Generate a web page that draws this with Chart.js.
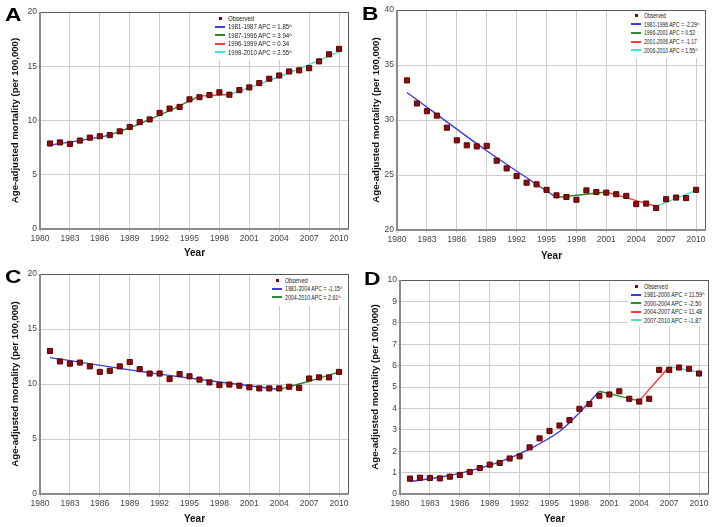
<!DOCTYPE html>
<html>
<head>
<meta charset="utf-8">
<script src="https://cdn.jsdelivr.net/npm/chart.js@4.4.0/dist/chart.umd.min.js"></script>
<style>
  body { margin: 0; background: #fff; width: 714px; height: 527px; position: relative; overflow: hidden; }
  .panel { position: absolute; }
  .letter { position: absolute; font: bold 19px 'Liberation Sans', Arial, sans-serif; line-height: 19px; color: #000; transform: scaleX(1.2); transform-origin: left top; }
  .legend { position: absolute; background: #fff; font-family: 'Liberation Sans', Arial, sans-serif; font-size: 7px; color: #222; box-sizing: border-box; padding-left: 3px; }
  .legend .row { display: flex; align-items: center; white-space: nowrap; }
  .legend .swatch { width: 10px; height: 2px; margin-right: 3px; flex: none; }
  .legend .dot { width: 10px; margin-right: 3px; flex: none; display: flex; justify-content: center; }
  .legend .dot span { width: 3px; height: 3px; background: #7a0808; display: block; }
  .legend .txt { display: inline-block; transform-origin: left center; }
</style>
</head>
<body>

<script>
// Años observados
const years = [1981, 1982, 1983, 1984, 1985, 1986, 1987, 1988, 1989, 1990,
               1991, 1992, 1993, 1994, 1995, 1996, 1997, 1998, 1999, 2000,
               2001, 2002, 2003, 2004, 2005, 2006, 2007, 2008, 2009, 2010];

// Valores observados por panel
const obsA = [7.88, 7.98, 7.84, 8.15, 8.42, 8.55, 8.65, 9.0, 9.4, 9.85,
              10.1, 10.7, 11.1, 11.25, 11.95, 12.15, 12.35, 12.6, 12.38, 12.8,
              13.05, 13.45, 13.85, 14.15, 14.52, 14.62, 14.82, 15.45, 16.1, 16.6];
const obsB = [33.6, 31.5, 30.8, 30.4, 29.3, 28.15, 27.7, 27.6, 27.65, 26.3,
              25.6, 24.9, 24.3, 24.15, 23.65, 23.15, 23.0, 22.75, 23.6, 23.45,
              23.4, 23.25, 23.1, 22.35, 22.4, 22.0, 22.8, 22.95, 22.9, 23.65];
const obsC = [13.0, 12.05, 11.85, 11.95, 11.6, 11.1, 11.2, 11.6, 12.0, 11.35,
              10.95, 10.95, 10.45, 10.9, 10.7, 10.4, 10.15, 9.9, 9.95, 9.85,
              9.7, 9.6, 9.6, 9.6, 9.75, 9.65, 10.5, 10.6, 10.6, 11.1];
const obsD = [0.72, 0.76, 0.75, 0.73, 0.81, 0.89, 1.03, 1.21, 1.37, 1.45,
              1.66, 1.76, 2.18, 2.6, 2.95, 3.2, 3.45, 3.98, 4.2, 4.59,
              4.65, 4.8, 4.45, 4.32, 4.45, 5.8, 5.8, 5.91, 5.85, 5.63];

// Segmentos de tendencia (joinpoint)
const segYearsA = [[1981, 1984, 1987], [1987, 1990, 1993, 1996], [1996, 1999], [1999, 2002, 2005, 2008, 2010]];
const segValsA  = [[7.75, 8.15, 8.65], [8.65, 9.7, 10.9, 12.25], [12.25, 12.4], [12.4, 13.35, 14.4, 15.55, 16.35]];
const segYearsB = [[1981, 1989, 1996], [1996, 2001], [2001, 2006], [2006, 2010]];
const segValsB  = [[32.5, 27.2, 22.95], [22.95, 23.45], [23.45, 22.15], [22.15, 23.6]];
const segYearsC = [[1981, 1992, 2004], [2004, 2007, 2010]];
const segValsC  = [[12.4, 10.9, 9.5], [9.5, 10.25, 11.1]];
const segYearsD = [[1981, 1984, 1987, 1990, 1993, 1996, 1998, 2000], [2000, 2004], [2004, 2007], [2007, 2010]];
const segValsD  = [[0.58, 0.78, 1.08, 1.5, 2.1, 2.92, 3.8, 4.8], [4.8, 4.35], [4.35, 5.95], [5.95, 5.7]];

// Textos de leyenda
const legendA = ['1981-1987 APC = 1.85^', '1987-1996 APC = 3.94^', '1996-1999 APC = 0.34', '1999-2010 APC = 2.55^'];
const legendB = ['1981-1996 APC = -2.29^', '1996-2001 APC = 0.52', '2001-2006 APC = -1.17', '2006-2010 APC = 1.55^'];
const legendC = ['1981-2004 APC = -1.15^', '2004-2010 APC = 2.61^'];
const legendD = ['1981-2000 APC = 11.59^', '2000-2004 APC = -2.50', '2004-2007 APC = 11.48', '2007-2010 APC = -1.87'];

// Ejes
const yRangeA = [0, 20, 5];
const yRangeB = [20, 40, 5];
const yRangeC = [0, 20, 5];
const yRangeD = [0, 10, 1];
const xTicks = [1980, 2011, 3];

const segColors = ['#3c3cdc', '#2e8a2e', '#ff3838', '#40e4d4'];
const sans = "'Liberation Sans', Arial, sans-serif";

// Marco alrededor del área del gráfico
const frame = {
    id: 'frame',
    beforeDatasetsDraw(chart) {
        const { ctx, chartArea: a } = chart;
        ctx.save();
        ctx.strokeStyle = '#5a5a5a';
        ctx.lineWidth = 1;
        ctx.strokeRect(a.left + 0.5, a.top + 0.5, a.right - a.left - 1, a.bottom - a.top - 1);
        ctx.strokeStyle = '#8a8a8a';
        ctx.lineWidth = 2;
        ctx.beginPath();
        ctx.moveTo(a.left, a.top);
        ctx.lineTo(a.left, a.bottom);
        ctx.lineTo(a.right, a.bottom);
        ctx.stroke();
        ctx.restore();
    }
};

function makePanel(p) {
    const box = document.createElement('div');
    box.className = 'panel';
    box.style.left = p.left + 'px';
    box.style.top = p.top + 'px';
    const canvas = document.createElement('canvas');
    canvas.width = p.w;
    canvas.height = p.h;
    box.appendChild(canvas);
    document.body.appendChild(box);

    const datasets = [{
        label: 'Observed',
        data: years.map((y, i) => ({ x: y, y: p.obs[i] })),
        showLine: false,
        pointStyle: 'rect',
        pointRadius: 3.6,
        pointBackgroundColor: '#8a0e0e',
        pointBorderColor: '#5c0000',
        pointBorderWidth: 1
    }];
    p.segYears.forEach((ys, k) => {
        datasets.push({
            label: p.legend[k],
            data: ys.map((y, i) => ({ x: y, y: p.segVals[k][i] })),
            showLine: true,
            borderColor: segColors[k],
            borderWidth: 1.4,
            pointRadius: 0,
            tension: 0.3
        });
    });

    new Chart(canvas, {
        type: 'scatter',
        data: { datasets },
        plugins: [frame],
        options: {
            responsive: false,
            animation: false,
            layout: { padding: { top: p.padTop, right: p.padRight, left: 0, bottom: 0 } },
            plugins: { legend: { display: false }, tooltip: { enabled: false } },
            scales: {
                x: {
                    type: 'linear',
                    min: xTicks[0],
                    max: xTicks[1],
                    afterFit: s => { s.height = p.xH; },
                    ticks: {
                        stepSize: xTicks[2],
                        includeBounds: false,
                        autoSkip: false,
                        maxRotation: 0,
                        padding: 2,
                        color: '#444',
                        font: { family: sans, size: 8.5 },
                        callback: v => String(v)
                    },
                    grid: { color: '#cdcdcd', tickLength: 3 },
                    border: { display: false },
                    title: {
                        display: true,
                        text: 'Year',
                        color: '#111',
                        font: { family: sans, size: 10, weight: 'bold' },
                        padding: { top: 0, bottom: p.xTitlePad }
                    }
                },
                y: {
                    min: p.yRange[0],
                    max: p.yRange[1],
                    afterFit: s => { s.width = p.yW; },
                    ticks: {
                        stepSize: p.yRange[2],
                        padding: 1,
                        color: '#444',
                        font: { family: sans, size: 8.5 }
                    },
                    grid: { color: '#cdcdcd', tickLength: 2 },
                    border: { display: false },
                    title: {
                        display: true,
                        text: 'Age-adjusted mortality (per 100,000)',
                        color: '#111',
                        font: { family: sans, size: 9.6, weight: 'bold' },
                        padding: { top: p.yTitlePad, bottom: 0 }
                    }
                }
            }
        }
    });

    // Leyenda
    const lg = document.createElement('div');
    lg.className = 'legend';
    lg.style.left = p.lg[0] + 'px';
    lg.style.top = p.lg[1] + 'px';
    lg.style.width = p.lg[2] + 'px';
    lg.style.height = p.lg[3] + 'px';
    lg.style.paddingTop = p.lg[4] + 'px';
    const rowH = p.lg[5];
    const sx = `transform:scaleX(${p.lg[6]})`;
    let html = `<div class="row" style="height:${rowH}px"><div class="dot"><span></span></div><span class="txt" style="${sx}">Observed</span></div>`;
    p.legend.forEach((t, k) => {
        html += `<div class="row" style="height:${rowH}px"><div class="swatch" style="background:${segColors[k]}"></div><span class="txt" style="${sx}">${t}</span></div>`;
    });
    lg.innerHTML = html;
    document.body.appendChild(lg);

    const letter = document.createElement('div');
    letter.className = 'letter';
    letter.textContent = p.letter;
    letter.style.left = p.letterPos[0] + 'px';
    letter.style.top = p.letterPos[1] + 'px';
    document.body.appendChild(letter);
}

makePanel({ letter: 'A', letterPos: [5, 5], left: 0, top: 0, w: 357, h: 263, padTop: 12, padRight: 8, yW: 40, xH: 34,
            yTitlePad: 10, xTitlePad: 4, yRange: yRangeA, obs: obsA, segYears: segYearsA, segVals: segValsA,
            legend: legendA, lg: [212, 13, 80, 47, 0.75, 8.5, 0.86] });
makePanel({ letter: 'B', letterPos: [362, 4], left: 357, top: 0, w: 357, h: 263, padTop: 10, padRight: 8, yW: 40, xH: 33,
            yTitlePad: 14, xTitlePad: 1, yRange: yRangeB, obs: obsB, segYears: segYearsB, segVals: segValsB,
            legend: legendB, lg: [628, 11, 77, 47, 0, 8.75, 0.72] });
makePanel({ letter: 'C', letterPos: [5, 267], left: 0, top: 263, w: 357, h: 264, padTop: 11, padRight: 8, yW: 40, xH: 33,
            yTitlePad: 10, xTitlePad: 2, yRange: yRangeC, obs: obsC, segYears: segYearsC, segVals: segValsC,
            legend: legendC, lg: [269, 275, 79, 31, 0.75, 8.5, 0.75] });
makePanel({ letter: 'D', letterPos: [364, 269], left: 357, top: 263, w: 357, h: 264, padTop: 17, padRight: 5, yW: 43, xH: 33,
            yTitlePad: 13, xTitlePad: 2, yRange: yRangeD, obs: obsD, segYears: segYearsD, segVals: segValsD,
            legend: legendD, lg: [628, 281, 80, 45, 0.75, 8.5, 0.78] });
</script>
</body>
</html>
